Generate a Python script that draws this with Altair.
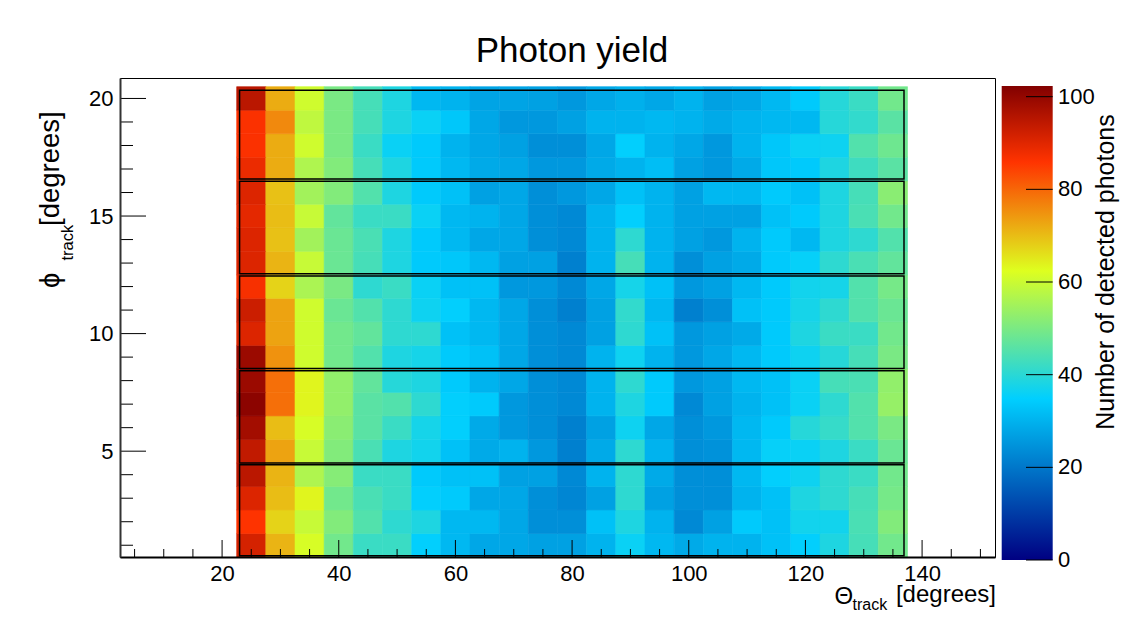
import altair as alt
import pandas as pd

# ---------------- data ----------------
theta_centers = [25, 30, 35, 40, 45, 50, 55, 60, 65, 70, 75, 80,
                 85, 90, 95, 100, 105, 110, 115, 120, 125, 130, 135]
theta_bin_width = 5
phi_bin_width = 1

yield_phi_01 = [91.5, 71, 61.5, 49, 42, 42, 35, 31, 28, 28, 27, 27, 30, 36, 31, 28.5, 30, 30, 32.5, 35, 38.5, 43.5, 49]
yield_phi_02 = [86, 67.5, 59.5, 51, 45, 40.5, 38.5, 31, 31, 28, 24, 24, 32.5, 38.5, 30, 23, 27, 34, 32.5, 37, 37, 44, 51]
yield_phi_03 = [90.5, 70, 63.5, 49, 44, 42, 35, 34, 28, 28, 24, 22.5, 27, 40.5, 27, 24, 24, 30, 32.5, 38.5, 40.5, 43.5, 49.5]
yield_phi_04 = [95, 71, 56.5, 51.5, 42, 42, 34, 32.5, 32.5, 27, 27, 23, 30, 40.5, 28.5, 24, 24, 31, 35, 36.5, 40.5, 42, 49]
yield_phi_05 = [94, 73, 59.5, 51, 44, 38.5, 37, 32.5, 28.5, 30, 25.5, 21.5, 28.5, 40.5, 30, 24, 24.5, 31, 35.5, 36, 38.5, 42, 48]
yield_phi_06 = [98, 70, 61.5, 52, 46, 42, 37.5, 35, 28.5, 25.5, 24, 21.5, 27, 36.5, 28, 24, 25.5, 31, 34, 39.5, 41.5, 45, 50]
yield_phi_07 = [101, 79, 63.5, 53, 46, 45, 40.5, 35, 34, 25.5, 24, 23, 30, 38.5, 34, 23, 27, 30, 32.5, 36, 40.5, 45, 53.5]
yield_phi_08 = [99, 79, 63.5, 53, 47, 39.5, 38.5, 34, 30, 28, 24, 23, 30, 40.5, 34, 25.5, 27, 31, 32.5, 36, 43.5, 44, 53]
yield_phi_09 = [99, 75, 60.5, 49, 45, 38.5, 37.5, 34, 32.5, 28, 24, 23, 30, 36.5, 30, 25.5, 28, 31, 34, 36.5, 39.5, 43.5, 50]
yield_phi_10 = [90.5, 73, 60.5, 49, 47, 40.5, 40.5, 32.5, 31, 28, 24, 23, 27, 40.5, 32.5, 25.5, 27, 28.5, 34, 38.5, 42, 42, 49]
yield_phi_11 = [92.8, 73, 60.5, 48, 45, 40.5, 36.5, 35, 31, 28, 24, 21.5, 27, 41, 31, 21.5, 24, 32.5, 34, 37.5, 40.5, 45, 48]
yield_phi_12 = [87, 67.5, 56, 50, 40.5, 42, 36, 32.5, 32.5, 25.5, 25.5, 23, 28, 37.5, 32.5, 25.5, 27, 31, 34, 37, 37.5, 45, 49.5]
yield_phi_13 = [90.5, 71, 59.5, 48, 43.5, 38.5, 34, 33.5, 31, 27, 27, 21.5, 30, 43.5, 30, 24, 27, 28.5, 34, 35.5, 40.5, 44, 47]
yield_phi_14 = [90.5, 69.5, 55, 48, 44, 38.5, 34, 31, 28, 28, 24, 23, 30, 40.5, 30, 27, 25.5, 30, 34, 31, 38.5, 40.5, 45]
yield_phi_15 = [89.5, 70, 59.5, 47, 42, 42, 36, 31, 30, 28, 24, 23, 30, 35, 30, 27, 27, 27, 32.5, 34, 38.5, 44, 49]
yield_phi_16 = [90.5, 69.5, 55, 51, 45, 38.5, 34, 32.5, 27, 28, 24, 25.5, 28, 32.5, 30, 27, 31, 31, 34, 32.5, 38.5, 43.5, 52]
yield_phi_17 = [88.5, 72, 56.5, 51, 43.5, 38.5, 34, 31, 28.5, 28, 25.5, 25.5, 28.5, 30, 32, 27, 25.5, 28.5, 33.5, 34, 38.5, 42.5, 46]
yield_phi_18 = [86.5, 72, 60.5, 50, 42, 36, 34, 30, 28, 27, 24, 24, 28, 35, 30, 28, 25.5, 30, 33.5, 36, 36.5, 45, 48.5]
yield_phi_19 = [86.5, 76, 58.5, 50, 43.5, 38.5, 36, 33.5, 28, 25.5, 25.5, 27, 30, 30, 31, 30, 28.5, 30, 31, 31, 39.5, 41, 46]
yield_phi_20 = [95, 72, 60.5, 50, 43.5, 38.5, 31, 30, 27.5, 27.5, 27, 25.5, 28, 29.5, 28, 30, 27, 28, 31, 34, 39.5, 42, 49]

phi_rows = {
    1: yield_phi_01, 2: yield_phi_02, 3: yield_phi_03, 4: yield_phi_04, 5: yield_phi_05,
    6: yield_phi_06, 7: yield_phi_07, 8: yield_phi_08, 9: yield_phi_09, 10: yield_phi_10,
    11: yield_phi_11, 12: yield_phi_12, 13: yield_phi_13, 14: yield_phi_14, 15: yield_phi_15,
    16: yield_phi_16, 17: yield_phi_17, 18: yield_phi_18, 19: yield_phi_19, 20: yield_phi_20,
}

# detector sector outlines (phi ranges) and theta extent
sector_phi_lo = [0.55, 4.5, 8.52, 12.55, 16.57]
sector_phi_hi = [4.42, 8.42, 12.45, 16.48, 20.35]
sector_theta_lo = 23.0
sector_theta_hi = 136.9

# axis ticks
theta_major_ticks = [20, 40, 60, 80, 100, 120, 140]
theta_minor_ticks = [5, 10, 15, 25, 30, 35, 45, 50, 55, 65, 70, 75, 85, 90, 95,
                     105, 110, 115, 125, 130, 135, 145, 150]
phi_major_ticks = [5, 10, 15, 20]
phi_minor_ticks = [1, 2, 3, 4, 6, 7, 8, 9, 11, 12, 13, 14, 16, 17, 18, 19]
colorbar_ticks = [0, 20, 40, 60, 80, 100]

Z_MAX = 102.3
palette_stops = [0.0, 0.34, 0.61, 0.84, 1.0]
palette_colors = ["#000082", "#00cfff", "#deff1f", "#ff3300", "#820000"]

# ---------------- build tables ----------------
records = []
for phi, vals in phi_rows.items():
    for th, v in zip(theta_centers, vals):
        records.append({
            "theta_lo": th - theta_bin_width / 2, "theta_hi": th + theta_bin_width / 2,
            "phi_lo": phi - phi_bin_width / 2, "phi_hi": phi + phi_bin_width / 2,
            "photons": v,
        })
df = pd.DataFrame(records)

sectors_df = pd.DataFrame({
    "theta_lo": [sector_theta_lo] * len(sector_phi_lo),
    "theta_hi": [sector_theta_hi] * len(sector_phi_lo),
    "phi_lo": sector_phi_lo, "phi_hi": sector_phi_hi,
})

W, H = 875, 479
FONT = "Liberation Sans"

color_domain = [s * Z_MAX for s in palette_stops]
fill_scale = alt.Scale(domain=color_domain, range=palette_colors, interpolate="rgb")
stroke_scale = alt.Scale(domain=color_domain, range=palette_colors, interpolate="rgb")

x_scale = alt.Scale(domain=[2.5, 152.5], nice=False, zero=False)
y_scale = alt.Scale(domain=[0.5, 20.87], nice=False, zero=False)

x_axis = alt.Axis(values=theta_major_ticks, title=None, ticks=False, grid=False,
                  labelFontSize=22, labelFont=FONT, labelColor="black",
                  labelPadding=6, domainColor="black", domainWidth=2,
                  labelFlush=False, zindex=1)
y_axis = alt.Axis(values=phi_major_ticks, title=None, ticks=False, grid=False,
                  labelFontSize=22, labelFont=FONT, labelColor="black",
                  labelPadding=7, domainColor="#333333", domainWidth=2,
                  labelFlush=False, zindex=1)

heat = alt.Chart(df).mark_rect(strokeWidth=0.6).encode(
    x=alt.X("theta_lo:Q", scale=x_scale, axis=x_axis),
    x2="theta_hi:Q",
    y=alt.Y("phi_lo:Q", scale=y_scale, axis=y_axis),
    y2="phi_hi:Q",
    fill=alt.Fill("photons:Q", scale=fill_scale, legend=None),
    stroke=alt.Stroke("photons:Q", scale=stroke_scale, legend=None),
)

sectors = alt.Chart(sectors_df).mark_rect(fillOpacity=0, stroke="black", strokeWidth=1.5).encode(
    x=alt.X("theta_lo:Q", scale=x_scale, axis=x_axis), x2="theta_hi:Q",
    y=alt.Y("phi_lo:Q", scale=y_scale, axis=y_axis), y2="phi_hi:Q",
)


def xrule(values, length):
    return alt.Chart(pd.DataFrame({"theta_lo": values})).mark_rule(color="black", strokeWidth=1).encode(
        x=alt.X("theta_lo:Q", scale=x_scale, axis=x_axis),
        y=alt.value(H), y2=alt.value(H - length),
    )


def yrule(values, length):
    return alt.Chart(pd.DataFrame({"phi_lo": values})).mark_rule(color="black", strokeWidth=1).encode(
        y=alt.Y("phi_lo:Q", scale=y_scale, axis=y_axis),
        x=alt.value(0), x2=alt.value(length),
    )


def label(text, x, y, size, angle=0, align="left", baseline="alphabetic"):
    return alt.Chart(pd.DataFrame({"s": [text]})).mark_text(
        align=align, baseline=baseline, fontSize=size, font=FONT, angle=angle, color="black"
    ).encode(x=alt.value(x), y=alt.value(y), text="s:N")


main = alt.layer(
    heat, sectors,
    xrule(theta_major_ticks, 17), xrule(theta_minor_ticks, 8),
    yrule(phi_major_ticks, 26), yrule(phi_minor_ticks, 13),
    # title
    label("Photon yield", 452, -16, 35, align="center"),
    # x title: Theta_track [degrees]
    label("\u0398", 714.5, 525.5, 24),
    label("track", 732.5, 532, 16),
    label("[degrees]", 876, 524, 24, align="right"),
    # y title: phi_track [degrees]
    label("\u03d5", -61, 210, 27.5, angle=270),
    label("track", -47, 182.5, 16.5, angle=270),
    label("[degrees]", -61, 148, 27.5, angle=270),
)

# ---------------- colour bar ----------------
cb_scale = alt.Scale(domain=[0.65, 104.03], nice=False, zero=False)
gradient = alt.Gradient(
    gradient="linear",
    stops=[alt.GradientStop(offset=s, color=c) for s, c in zip(palette_stops, palette_colors)],
    x1=0, x2=0, y1=1, y2=0,
)
cbar = alt.Chart(pd.DataFrame({"z": [0.0], "z_hi": [Z_MAX]})).mark_rect(fill=gradient).encode(
    x=alt.value(881.7), x2=alt.value(932.7),
    y=alt.Y("z:Q", scale=cb_scale, axis=None),
    y2="z_hi:Q",
)
cb_ticks_df = pd.DataFrame({"z": colorbar_ticks})
cb_ticks = alt.Chart(cb_ticks_df).mark_rule(color="black", strokeWidth=1).encode(
    y=alt.Y("z:Q", scale=cb_scale, axis=None),
    x=alt.value(906), x2=alt.value(932.7),
)
cb_labels = alt.Chart(cb_ticks_df).mark_text(
    align="left", baseline="middle", fontSize=22, font=FONT, color="black"
).encode(
    y=alt.Y("z:Q", scale=cb_scale, axis=None),
    x=alt.value(938),
    text=alt.Text("z:Q", format="d"),
)
cb_title = label("Number of detected photons", 994, 194, 25, angle=270, align="center")

colorbar = alt.layer(cbar, cb_ticks, cb_labels, cb_title)

chart = alt.layer(main, colorbar).resolve_scale(y="independent").properties(
    width=W, height=H,
    autosize=alt.AutoSizeParams(type="none"),
    padding={"left": 112, "top": 70, "right": 142, "bottom": 63},
).configure_view(stroke="black", strokeWidth=1)

chart.save("out.html", embed_options={"renderer": "svg", "actions": False})
